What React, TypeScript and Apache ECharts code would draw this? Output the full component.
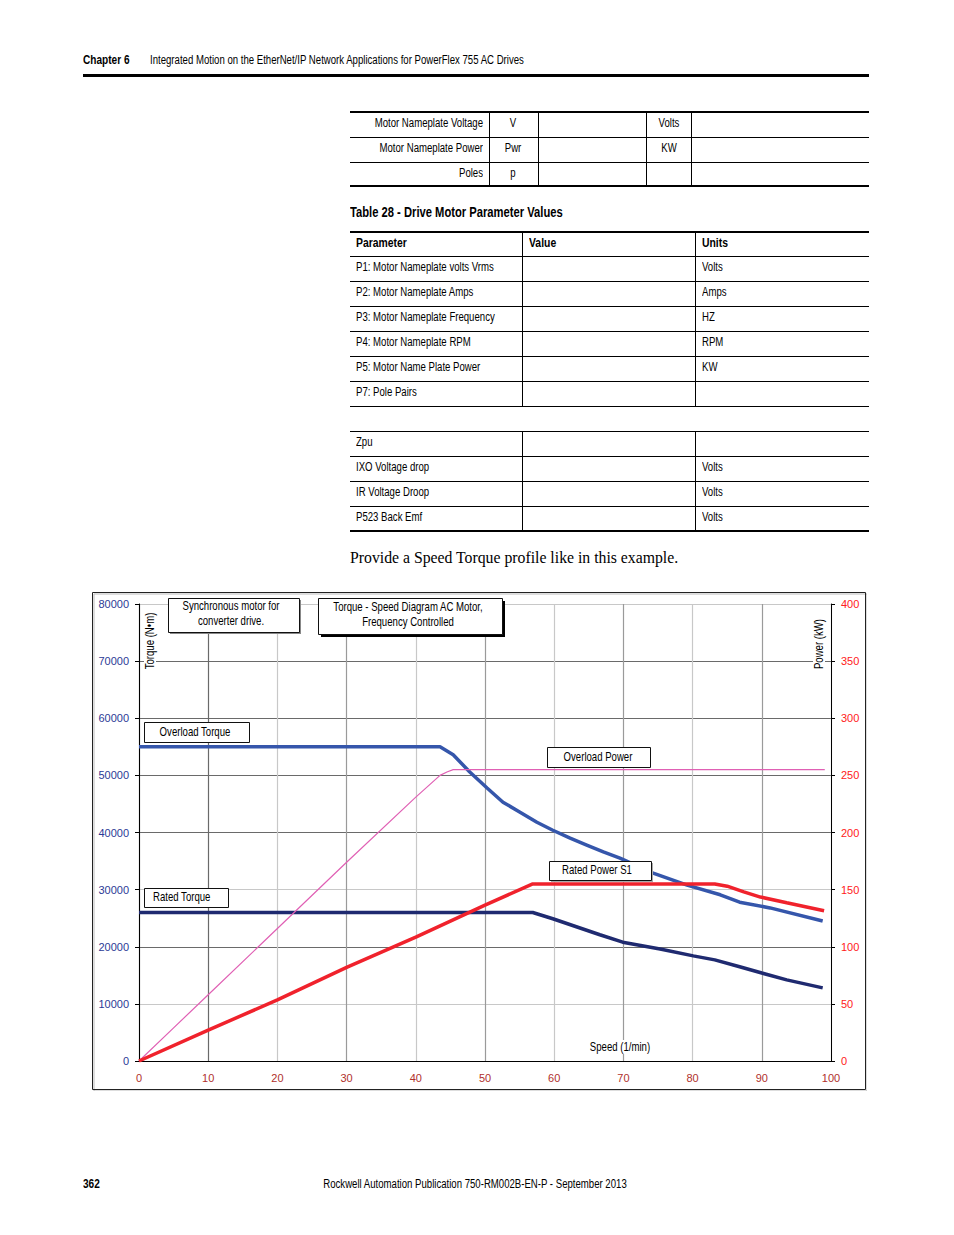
import React, { useEffect, useRef } from "react";
import * as echarts from "echarts";

// ---------- data ----------
const speedMin = 0;
const speedMax = 100;
const torqueMax = 80000;
const powerMax = 400;

const overloadTorque: [number, number][] = [
  [0, 55000], [43.5, 55000], [45.4, 53600], [47.8, 50600], [50.3, 47800],
  [52.6, 45300], [55.0, 43600], [57.5, 41800], [59.8, 40400], [62.3, 39000],
  [64.7, 37800], [67.1, 36600], [69.5, 35500], [74.3, 32900], [79.2, 30800],
  [84.0, 29100], [86.8, 27800], [91.2, 26800], [98.8, 24500],
];
const ratedTorque: [number, number][] = [
  [0, 26000], [56.9, 26000], [59.8, 24900], [66.6, 22100], [69.9, 20800],
  [75.3, 19600], [80.1, 18400], [83.2, 17700], [86.8, 16500], [90.0, 15400],
  [93.6, 14200], [98.8, 12800],
];
const ratedPower: [number, number][] = [
  [0, 0], [10, 27], [20, 53.5], [30, 82], [40, 108.5], [50, 136.5],
  [56.9, 155], [83.2, 155], [85, 153], [87.4, 148], [89.8, 143.5],
  [93.6, 138.5], [99.0, 131.5],
];
const overloadPower: [number, number][] = [
  [0, 0], [5, 29], [10, 58], [20, 116], [30, 174], [40, 231],
  [43.5, 250], [44.5, 253], [45.4, 255], [99.1, 255],
];

const table1Labels = ["Motor Nameplate Voltage", "Motor Nameplate Power", "Poles"];
const table1Symbols = ["V", "Pwr", "p"];
const table1Units = ["Volts", "KW", ""];

const table2Header = ["Parameter", "Value", "Units"];
const table2Params = [
  "P1: Motor Nameplate volts Vrms",
  "P2: Motor Nameplate Amps",
  "P3: Motor Nameplate Frequency",
  "P4: Motor Nameplate RPM",
  "P5: Motor Name Plate Power",
  "P7: Pole Pairs",
];
const table2Units = ["Volts", "Amps", "HZ", "RPM", "KW", ""];
const table3Params = ["Zpu", "IXO Voltage drop", "IR Voltage Droop", "P523 Back Emf"];
const table3Units = ["", "Volts", "Volts", "Volts"];

// ---------- styles ----------
const NARROW = "'Liberation Sans', Arial, sans-serif";
const SX = 0.8; // horizontal condensing to mimic a condensed face
const ARIAL = "'Liberation Sans', Arial, sans-serif";
const SERIF = "'Liberation Serif', 'DejaVu Serif', serif";

type TxtProps = {
  x: number;
  y: number;
  text: string;
  size?: number;
  bold?: boolean;
  align?: "left" | "right" | "center";
  font?: string;
  sx?: number;
};

function Txt({ x, y, text, size = 12, bold = false, align = "left", font = NARROW, sx = SX }: TxtProps) {
  const h = size + 6;
  let left = x;
  const width = 600;
  if (align === "right") {
    left = x - 600;
  } else if (align === "center") {
    left = x - 300;
  }
  return (
    <div
      style={{
        position: "absolute",
        left,
        top: y - h / 2,
        height: h,
        lineHeight: h + "px",
        width,
        textAlign: align,
        fontFamily: font,
        fontSize: size,
        fontWeight: bold ? 700 : 400,
        color: "#000",
        whiteSpace: "nowrap",
        transform: `scaleX(${sx})`,
        transformOrigin: align === "left" ? "left center" : align === "right" ? "right center" : "center center",
      }}
    >
      {text}
    </div>
  );
}

function HLine({ x1, x2, y, t = 1 }: { x1: number; x2: number; y: number; t?: number }) {
  return <div style={{ position: "absolute", left: x1, top: y, width: x2 - x1, height: t, background: "#000" }} />;
}
function VLine({ x, y1, y2, t = 1 }: { x: number; y1: number; y2: number; t?: number }) {
  return <div style={{ position: "absolute", left: x, top: y1, width: t, height: y2 - y1, background: "#000" }} />;
}

function Chart() {
  const ref = useRef<HTMLDivElement>(null);
  useEffect(() => {
    if (!ref.current) return;
    const chart = echarts.init(ref.current, undefined, { renderer: "svg" });
    const W = 775;
    const H = 499;
    const dark = "#6a6a6a";
    const mid = "#9a9a9a";
    const light = "#c8c8c8";

    const box = (x: number, y: number, w: number, h: number, shadow?: { color: string; off: number }) => {
      const els: any[] = [];
      if (shadow) {
        els.push({
          type: "rect",
          z: 100,
          shape: { x: x + shadow.off, y: y + shadow.off, width: w, height: h },
          style: { fill: shadow.color, stroke: "none" },
        });
      }
      els.push({
        type: "rect",
        z: 101,
        shape: { x: x + 0.5, y: y + 0.5, width: w, height: h },
        style: { fill: "#fff", stroke: "#111", lineWidth: 1 },
      });
      return els;
    };
    const label = (x: number, y: number, text: string, align: string = "center", extra: any = {}) => ({
      type: "text",
      z: 102,
      x,
      y,
      scaleX: SX,
      ...extra,
      style: {
        text,
        fill: "#000",
        fontSize: 12,
        fontFamily: NARROW,
        align,
        verticalAlign: "middle",
        ...(extra.style || {}),
      },
    });

    const graphic: any[] = [
      {
        type: "rect",
        z: 98,
        shape: { x: 2, y: 2, width: W - 2, height: H - 2 },
        style: { fill: "none", stroke: "#bbb", lineWidth: 1 },
      },
      {
        type: "rect",
        z: 99,
        shape: { x: 0.5, y: 0.5, width: W - 2, height: H - 2 },
        style: { fill: "none", stroke: "#222", lineWidth: 1 },
      },
      ...box(76, 6, 131, 34, { color: "#888", off: 2 }),
      label(139, 14, "Synchronous motor for"),
      label(139, 29, "converter drive."),
      ...box(226, 6, 184, 36, { color: "#000", off: 3 }),
      label(316, 15, "Torque - Speed Diagram AC Motor,"),
      label(316, 30, "Frequency Controlled"),
      ...box(52, 130, 105, 20),
      label(103, 140, "Overload Torque"),
      ...box(455, 155, 103, 20),
      label(506, 165, "Overload Power"),
      ...box(457, 269, 102, 19, { color: "#aaa", off: 2 }),
      label(505, 278, "Rated Power S1"),
      ...box(52, 296, 84, 19),
      label(61, 305, "Rated Torque", "left"),
      label(528, 455, "Speed (1/min)", "center", {
        style: { backgroundColor: "#fff", padding: [1, 2] },
      }),
      label(58, 49, "Torque (N\u2022m)", "center", {
        rotation: Math.PI / 2,
        style: { backgroundColor: "#fff", padding: [0, 2] },
      }),
      label(727, 52, "Power (kW)", "center", {
        rotation: Math.PI / 2,
        style: { backgroundColor: "#fff", padding: [0, 2] },
      }),
    ];

    chart.setOption({
      animation: false,
      backgroundColor: "#fff",
      grid: { left: 47, right: 36, top: 12, bottom: 30, containLabel: false },
      xAxis: {
        type: "value",
        min: speedMin,
        max: speedMax,
        interval: 10,
        axisLine: { show: true, onZero: false, lineStyle: { color: "#000", width: 1 } },
        axisTick: { show: false },
        axisLabel: { color: "#b0302c", fontSize: 11, fontFamily: ARIAL, margin: 11 },
        splitLine: {
          show: true,
          lineStyle: {
            color: [dark, dark, light, mid, light, mid, light, mid, light, mid, light],
            width: 1.2,
          },
        },
      },
      yAxis: [
        {
          type: "value",
          min: 0,
          max: torqueMax,
          interval: 10000,
          position: "left",
          axisLine: { show: true, onZero: false, lineStyle: { color: "#000", width: 1 } },
          axisTick: { show: true, length: 4, inside: false, lineStyle: { color: "#000" } },
          axisLabel: {
            color: "#2b3a96",
            fontSize: 11,
            fontFamily: ARIAL,
            margin: 10,
            formatter: (v: number) => String(v),
          },
          splitLine: {
            show: true,
            lineStyle: {
              color: [dark, light, dark, light, dark, dark, dark, dark, light],
              width: 1.2,
            },
          },
        },
        {
          type: "value",
          min: 0,
          max: powerMax,
          interval: 50,
          position: "right",
          axisLine: { show: true, onZero: false, lineStyle: { color: "#000", width: 1 } },
          axisTick: { show: true, length: 4, inside: false, lineStyle: { color: "#000" } },
          axisLabel: {
            color: "#ff2020",
            fontSize: 11,
            fontFamily: ARIAL,
            margin: 10,
            formatter: (v: number) => String(v),
          },
          splitLine: { show: false },
        },
      ],
      series: [
        {
          name: "Rated Torque",
          type: "line",
          yAxisIndex: 0,
          data: ratedTorque,
          showSymbol: false,
          symbol: "none",
          lineStyle: { color: "#1f2a70", width: 3.5 },
          z: 3,
        },
        {
          name: "Overload Torque",
          type: "line",
          yAxisIndex: 0,
          data: overloadTorque,
          showSymbol: false,
          symbol: "none",
          lineStyle: { color: "#3556ab", width: 3.5 },
          z: 4,
        },
        {
          name: "Overload Power",
          type: "line",
          yAxisIndex: 1,
          data: overloadPower,
          showSymbol: false,
          symbol: "none",
          lineStyle: { color: "#e060b4", width: 1.2 },
          z: 5,
        },
        {
          name: "Rated Power S1",
          type: "line",
          yAxisIndex: 1,
          data: ratedPower,
          showSymbol: false,
          symbol: "none",
          lineStyle: { color: "#f0222c", width: 3.5 },
          z: 6,
        },
      ],
      graphic,
    });
    return () => chart.dispose();
  }, []);
  return <div ref={ref} style={{ position: "absolute", left: 92, top: 592, width: 775, height: 499 }} />;
}

export default function App() {
  const t1Rows = [123, 148, 173];
  const t2Rows = [267, 292, 317, 342, 367, 392];
  const t3Rows = [442, 467, 492, 517];
  return (
    <div style={{ position: "absolute", left: 0, top: 0, width: 954, height: 1235, background: "#fff", overflow: "hidden" }}>
      {/* header */}
      <Txt x={83} y={60} text="Chapter 6" bold size={12} sx={0.84} />
      <Txt x={150} y={60} text="Integrated Motion on the EtherNet/IP Network Applications for PowerFlex 755 AC Drives" size={12} />
      <HLine x1={83} x2={869} y={74} t={3} />

      {/* table 1 */}
      <HLine x1={350} x2={869} y={111} t={2} />
      <HLine x1={350} x2={869} y={137} />
      <HLine x1={350} x2={869} y={162} />
      <HLine x1={350} x2={869} y={185} t={2} />
      {[489, 538, 646, 691].map((x) => (
        <VLine key={x} x={x} y1={112} y2={186} />
      ))}
      {table1Labels.map((s, i) => (
        <Txt key={"l" + i} x={483} y={t1Rows[i]} text={s} align="right" />
      ))}
      {table1Symbols.map((s, i) => (
        <Txt key={"s" + i} x={513} y={t1Rows[i]} text={s} align="center" />
      ))}
      {table1Units.map((s, i) => (
        <Txt key={"u" + i} x={669} y={t1Rows[i]} text={s} align="center" />
      ))}

      {/* table 28 */}
      <Txt x={350} y={212} text="Table 28 - Drive Motor Parameter Values" bold size={14} />
      <HLine x1={350} x2={869} y={231} t={2} />
      <HLine x1={350} x2={869} y={256} />
      {[281, 306, 331, 356, 381].map((y) => (
        <HLine key={y} x1={350} x2={869} y={y} />
      ))}
      <HLine x1={350} x2={869} y={406} />
      {[522, 695].map((x) => (
        <VLine key={x} x={x} y1={232} y2={406} />
      ))}
      {table2Header.map((s, i) => (
        <Txt key={"h" + i} x={[356, 529, 702][i]} y={242} text={s} bold size={13} />
      ))}
      {table2Params.map((s, i) => (
        <Txt key={"p" + i} x={356} y={t2Rows[i]} text={s} />
      ))}
      {table2Units.map((s, i) => (
        <Txt key={"q" + i} x={702} y={t2Rows[i]} text={s} />
      ))}

      <HLine x1={350} x2={869} y={431} />
      {[456, 481, 506].map((y) => (
        <HLine key={y} x1={350} x2={869} y={y} />
      ))}
      <HLine x1={350} x2={869} y={530} t={2} />
      {[522, 695].map((x) => (
        <VLine key={"b" + x} x={x} y1={431} y2={531} />
      ))}
      {table3Params.map((s, i) => (
        <Txt key={"r" + i} x={356} y={t3Rows[i]} text={s} />
      ))}
      {table3Units.map((s, i) => (
        <Txt key={"v" + i} x={702} y={t3Rows[i]} text={s} />
      ))}

      <Txt x={350} y={558} text="Provide a Speed Torque profile like in this example." size={16} font={SERIF} sx={0.985} />

      <Chart />

      {/* footer */}
      <Txt x={83} y={1184} text="362" bold size={12} sx={0.84} />
      <Txt x={475} y={1184} text="Rockwell Automation Publication 750-RM002B-EN-P - September 2013" size={12} align="center" />
    </div>
  );
}
